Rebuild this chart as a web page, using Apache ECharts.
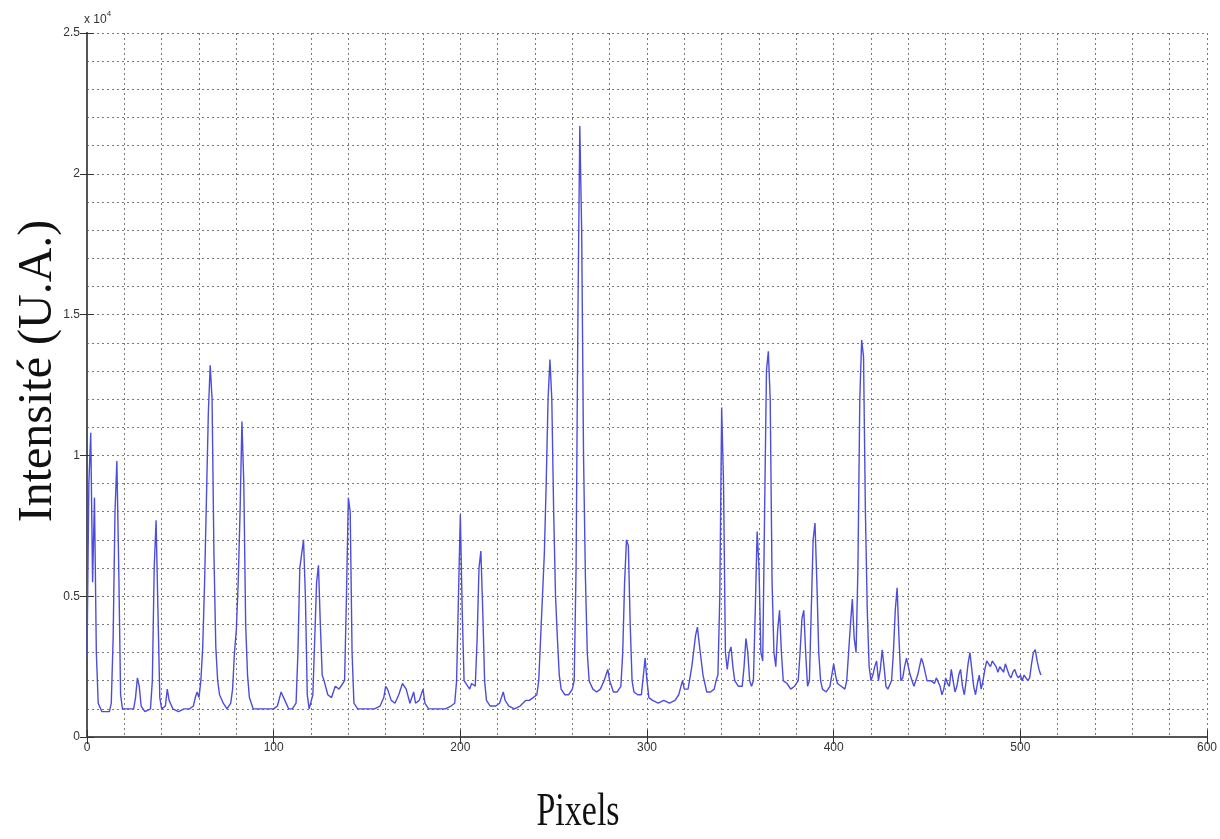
<!DOCTYPE html>
<html>
<head>
<meta charset="utf-8">
<script src="https://cdn.jsdelivr.net/npm/echarts@6/dist/echarts.min.js"></script>
<style>
html,body{margin:0;padding:0;background:#fff;}
#chart{width:1220px;height:839px;}
</style>
</head>
<body>
<div id="chart"></div>
<script>
// Pixel positions (x) and intensities (units of 10^4)
const pixelPos = [0,1,2,3,4,5,6,8,10,12,13,14,15,16,17,18,19,22,25,26,27,28,29,31,34,35,36,37,38,39,40,42,43,44,46,49,52,55,57,58,59,60,61,62,63,64,65,66,67,68,69,70,71,73,75,77,78,79,80,81,82,83,84,85,86,87,89,92,95,98,100,102,104,105,106,108,110,112,113,114,115,116,117,118,119,120,121,122,123,124,125,126,127,128,129,131,133,135,137,138,139,140,141,142,143,145,148,151,154,157,159,160,161,163,165,167,169,171,173,175,176,178,180,181,183,186,189,192,195,197,198,199,200,201,202,203,205,206,208,209,210,211,212,213,214,216,219,221,223,224,226,229,232,235,237,239,241,242,243,244,245,246,247,248,249,250,251,252,253,254,256,258,260,261,262,263,264,265,266,267,268,269,271,273,275,277,279,280,282,284,286,287,288,289,290,291,292,293,295,297,299,300,301,303,306,309,312,315,317,319,320,322,324,326,327,328,330,332,334,336,337,338,339,340,341,342,343,344,345,346,347,349,351,352,353,354,355,356,357,358,359,360,361,362,363,364,365,366,367,368,369,370,371,372,373,375,377,379,381,382,383,384,385,386,387,388,389,390,391,392,393,394,396,398,400,401,402,404,406,407,408,409,410,411,412,413,414,415,416,417,418,419,420,421,422,423,424,425,426,427,428,429,431,432,433,434,435,436,437,438,439,440,441,442,443,445,447,448,450,452,454,455,457,458,459,460,461,462,463,464,465,466,467,468,469,470,471,472,473,474,475,476,477,478,479,480,481,482,483,484,485,486,487,488,489,490,491,492,493,494,495,496,497,498,499,500,501,502,503,504,505,506,507,508,509,510,511];
const intensity = [0.28,0.9,1.08,0.55,0.85,0.3,0.12,0.09,0.09,0.09,0.12,0.35,0.8,0.98,0.6,0.15,0.1,0.1,0.1,0.14,0.21,0.18,0.11,0.09,0.1,0.2,0.6,0.77,0.45,0.14,0.1,0.11,0.17,0.13,0.1,0.09,0.1,0.1,0.11,0.14,0.16,0.14,0.2,0.32,0.55,0.85,1.15,1.32,1.2,0.65,0.32,0.2,0.15,0.12,0.1,0.12,0.17,0.3,0.38,0.55,0.8,1.12,0.9,0.4,0.22,0.14,0.1,0.1,0.1,0.1,0.1,0.11,0.16,0.16,0.13,0.1,0.1,0.12,0.3,0.6,0.65,0.7,0.5,0.15,0.1,0.1,0.15,0.35,0.55,0.61,0.4,0.22,0.2,0.2,0.15,0.14,0.18,0.17,0.19,0.2,0.5,0.85,0.8,0.3,0.12,0.1,0.1,0.1,0.1,0.11,0.14,0.18,0.17,0.13,0.12,0.15,0.19,0.17,0.12,0.16,0.12,0.13,0.17,0.12,0.1,0.1,0.1,0.1,0.11,0.12,0.2,0.5,0.79,0.45,0.2,0.2,0.17,0.19,0.18,0.35,0.6,0.66,0.45,0.2,0.13,0.11,0.11,0.12,0.16,0.13,0.11,0.1,0.11,0.13,0.13,0.14,0.15,0.2,0.35,0.5,0.65,0.9,1.2,1.34,1.2,0.8,0.5,0.35,0.22,0.17,0.15,0.15,0.17,0.2,0.6,1.5,2.17,1.8,1.0,0.57,0.3,0.2,0.17,0.16,0.17,0.2,0.24,0.2,0.16,0.16,0.18,0.3,0.55,0.7,0.68,0.4,0.2,0.16,0.15,0.15,0.28,0.2,0.14,0.13,0.12,0.13,0.12,0.13,0.15,0.2,0.17,0.17,0.25,0.36,0.39,0.33,0.22,0.16,0.16,0.17,0.2,0.22,0.5,1.17,0.9,0.3,0.24,0.3,0.32,0.25,0.2,0.18,0.18,0.25,0.35,0.3,0.2,0.18,0.2,0.45,0.73,0.6,0.3,0.27,0.8,1.3,1.37,1.2,0.55,0.3,0.25,0.38,0.45,0.3,0.2,0.19,0.17,0.18,0.2,0.3,0.42,0.45,0.3,0.18,0.2,0.45,0.7,0.76,0.55,0.3,0.2,0.17,0.16,0.18,0.26,0.22,0.19,0.18,0.17,0.2,0.3,0.4,0.49,0.35,0.3,0.6,1.2,1.41,1.35,0.8,0.45,0.25,0.2,0.22,0.25,0.27,0.2,0.24,0.31,0.25,0.18,0.17,0.2,0.3,0.45,0.53,0.35,0.2,0.21,0.25,0.28,0.25,0.22,0.2,0.18,0.22,0.28,0.26,0.2,0.2,0.19,0.21,0.18,0.15,0.17,0.21,0.19,0.18,0.24,0.2,0.16,0.18,0.22,0.24,0.18,0.15,0.2,0.26,0.3,0.24,0.18,0.15,0.19,0.22,0.17,0.2,0.24,0.27,0.26,0.25,0.27,0.26,0.25,0.23,0.25,0.24,0.23,0.26,0.24,0.22,0.21,0.23,0.24,0.22,0.21,0.22,0.2,0.22,0.22,0.2,0.21,0.26,0.3,0.31,0.27,0.24,0.22];

const xTicks = [0,100,200,300,400,500,600];
const yTicks = [0,0.5,1,1.5,2,2.5];
const xLabel = 'Pixels';
const yLabel = 'Intensité (U.A.)';

const seriesData = pixelPos.map((p, i) => [p, intensity[i]]);

const chart = echarts.init(document.getElementById('chart'), null, {renderer: 'canvas'});

const gridLine = {show: true, lineStyle: {color: '#7a7a7a', type: [2, 3], width: 1}};
const labelStyle = {color: '#333', fontFamily: 'Liberation Sans, Arial, sans-serif', fontSize: 12};
const axLine = {show: true, lineStyle: {color: '#555', width: 2}};
const tick = {show: true, inside: true, length: 7, lineStyle: {color: '#333', width: 1}};

chart.setOption({
  animation: false,
  backgroundColor: '#ffffff',
  grid: {left: 87, right: 13, top: 33, bottom: 102, containLabel: false, outerBoundsMode: 'none'},
  xAxis: [{
    type: 'value', min: xTicks[0], max: xTicks[xTicks.length - 1], interval: 100,
    position: 'bottom',
    axisLine: axLine,
    axisTick: tick,
    minorTick: {show: false, splitNumber: 5},
    splitLine: gridLine,
    minorSplitLine: gridLine,
    axisLabel: Object.assign({margin: 5}, labelStyle)
  }, {
    type: 'value', min: xTicks[0], max: xTicks[xTicks.length - 1], interval: 100,
    position: 'top',
    axisLine: axLine,
    axisTick: tick,
    splitLine: {show: false},
    axisLabel: {show: false}
  }],
  yAxis: [{
    type: 'value', min: yTicks[0], max: yTicks[yTicks.length - 1], interval: 0.5,
    position: 'left',
    axisLine: axLine,
    axisTick: tick,
    minorTick: {show: false, splitNumber: 5},
    splitLine: gridLine,
    minorSplitLine: gridLine,
    axisLabel: Object.assign({margin: 7, formatter: v => String(v)}, labelStyle)
  }, {
    type: 'value', min: yTicks[0], max: yTicks[yTicks.length - 1], interval: 0.5,
    position: 'right',
    axisLine: axLine,
    axisTick: tick,
    splitLine: {show: false},
    axisLabel: {show: false}
  }],
  graphic: [{
    type: 'text', left: 84, top: 10,
    style: {
      text: '{a|x 10}{b|4}',
      rich: {
        a: {fill: '#333', fontSize: 12, fontFamily: 'Liberation Sans, Arial, sans-serif', verticalAlign: 'bottom', lineHeight: 16},
        b: {fill: '#333', fontSize: 8, fontFamily: 'Liberation Sans, Arial, sans-serif', verticalAlign: 'top', lineHeight: 16, padding: [0, 0, 8, 0]}
      }
    }
  }, {
    type: 'text', x: 38, y: 371, rotation: Math.PI / 2,
    style: {text: yLabel, fill: '#111', font: '48px Liberation Serif, Times New Roman, serif', align: 'center', verticalAlign: 'middle'}
  }, {
    type: 'text', x: 578, y: 813, scaleY: 1.35,
    style: {text: xLabel, fill: '#111', font: '34px Liberation Serif, Times New Roman, serif', align: 'center', verticalAlign: 'middle'}
  }],
  series: [{
    type: 'line',
    data: seriesData,
    xAxisIndex: 0, yAxisIndex: 0,
    showSymbol: false,
    lineStyle: {color: '#4d4ddc', width: 1.4},
    smooth: false
  }]
});
</script>
</body>
</html>
